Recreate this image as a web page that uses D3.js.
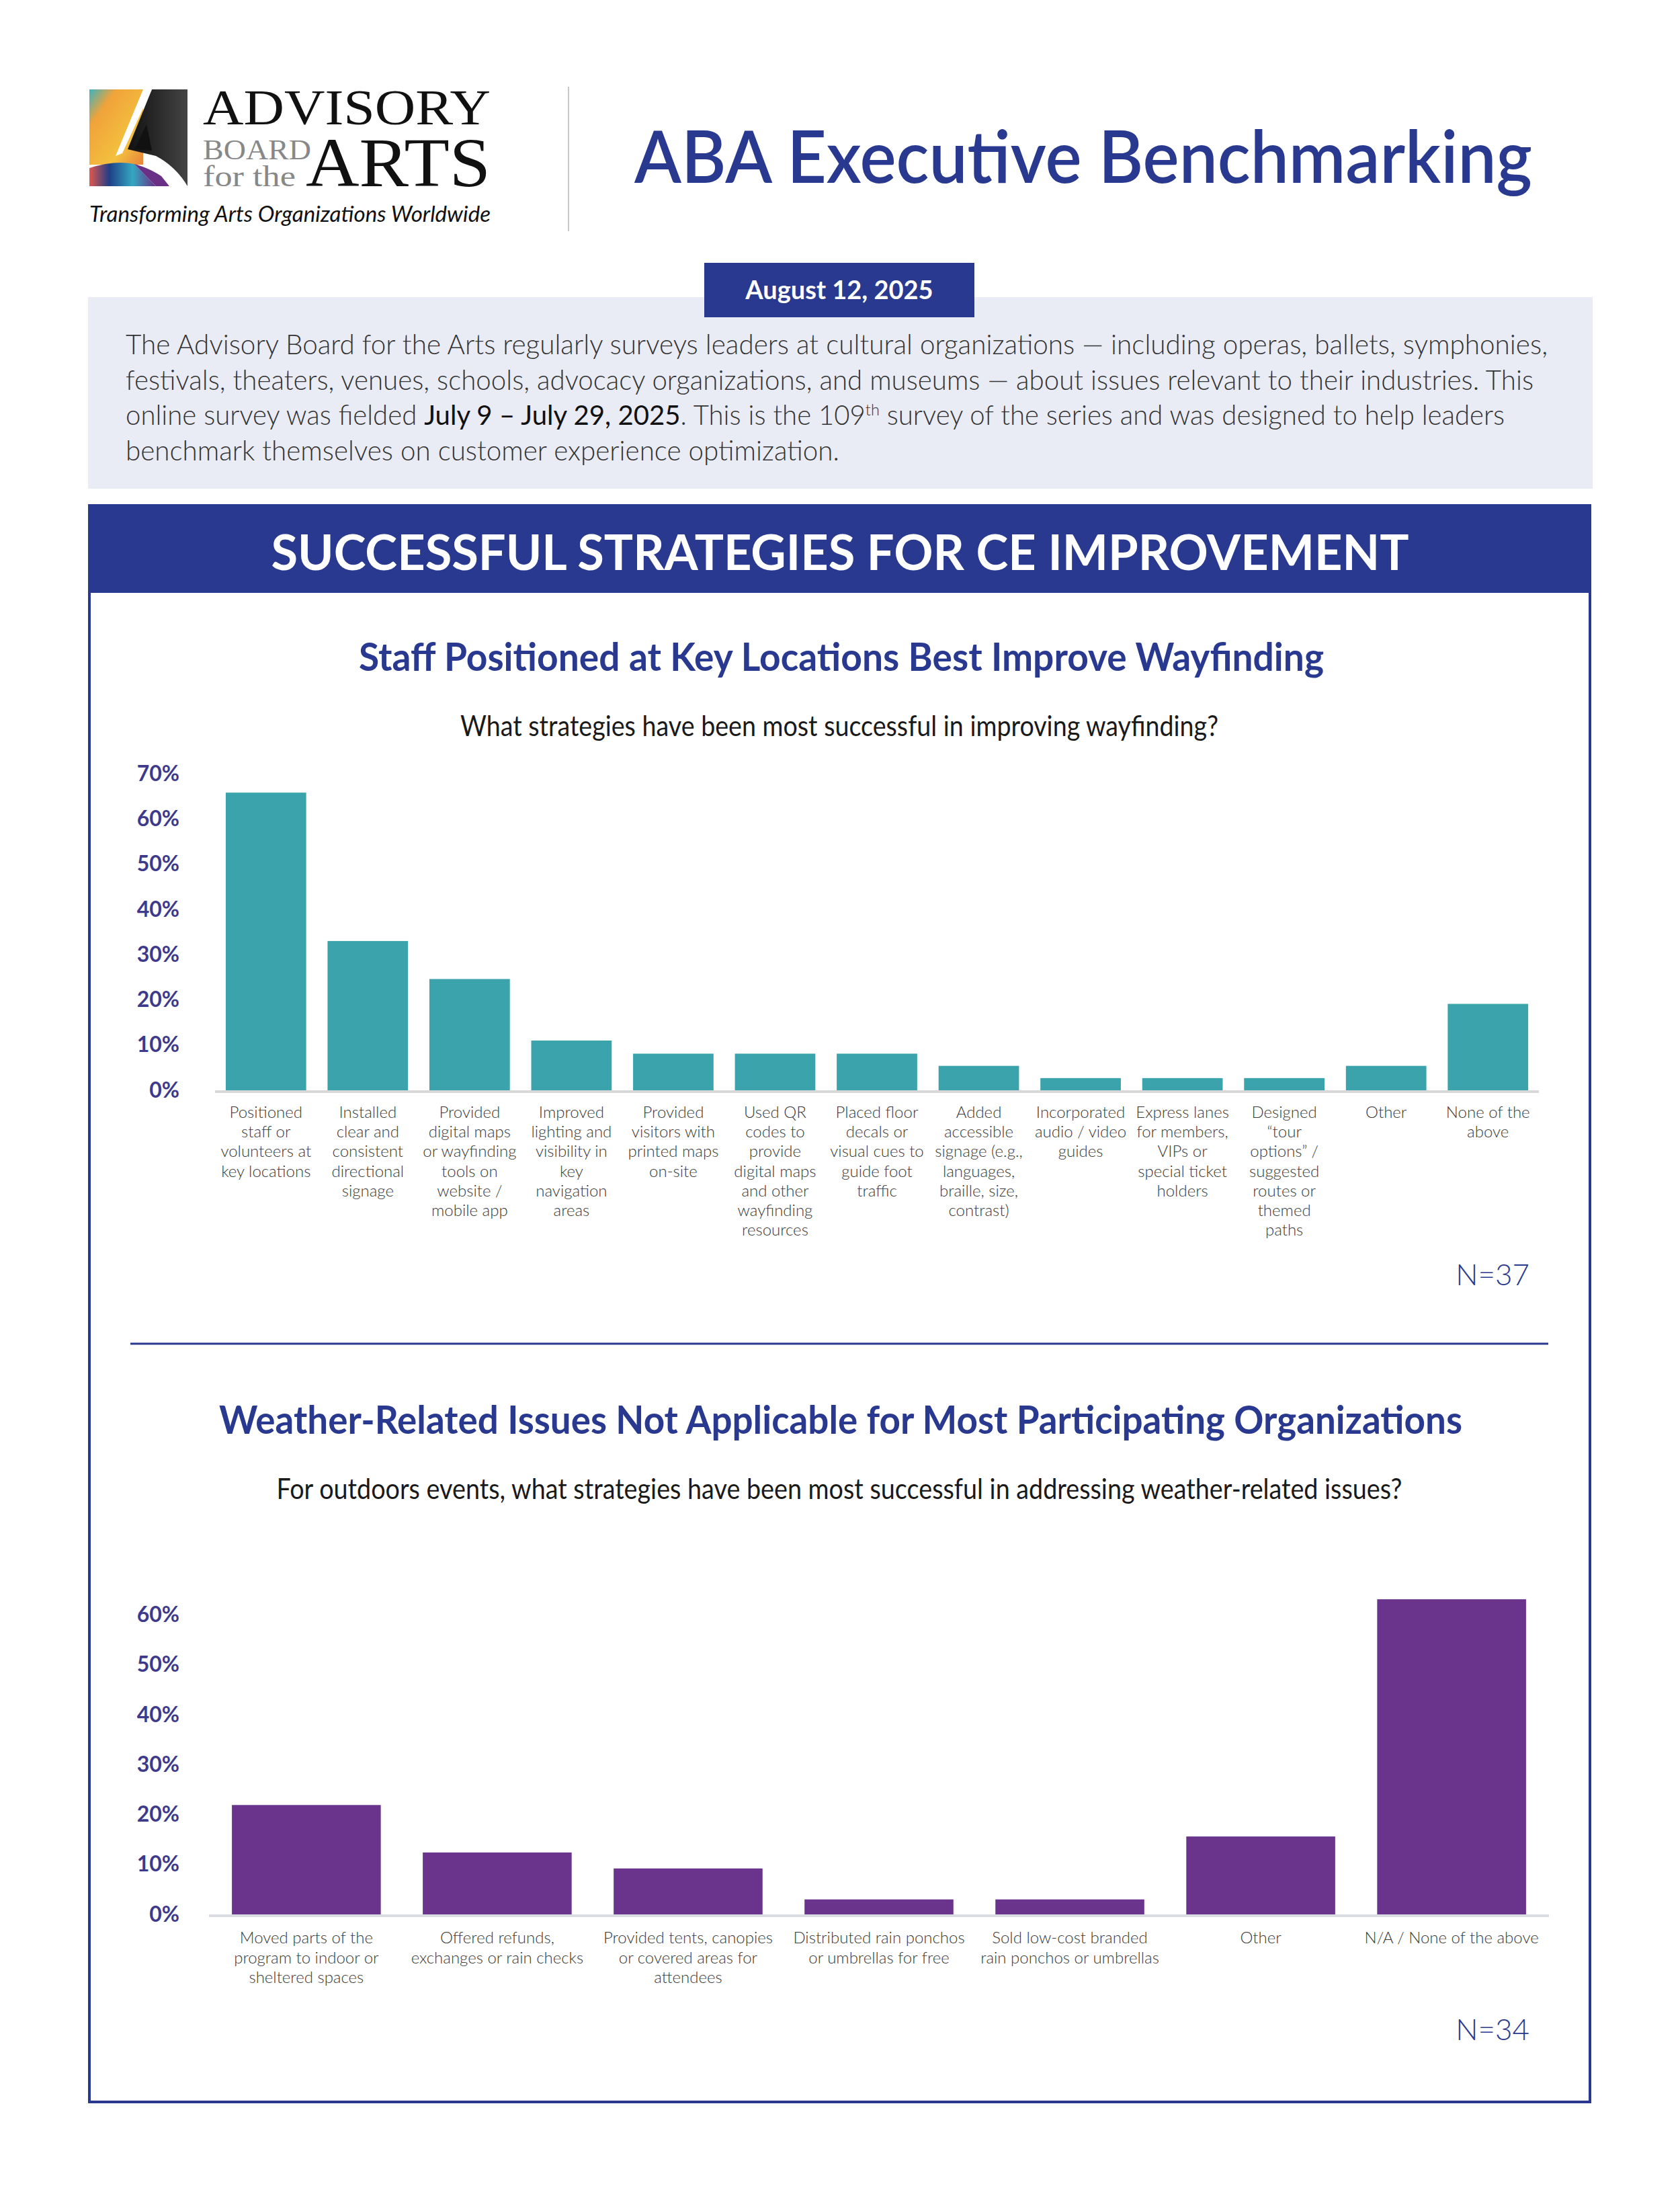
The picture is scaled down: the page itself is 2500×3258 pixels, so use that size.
<!DOCTYPE html>
<html>
<head>
<meta charset="utf-8">
<script src="https://cdn.jsdelivr.net/npm/d3@7"></script>
<style>
  body { margin: 0; background: #fff; }
  svg { display: block; }
</style>
</head>
<body>
<svg id="page"></svg>
<script>
// ---- data ----
const wayLabels = [
  "Positioned\nstaff or\nvolunteers at\nkey locations",
  "Installed\nclear and\nconsistent\ndirectional\nsignage",
  "Provided\ndigital maps\nor wayfinding\ntools on\nwebsite /\nmobile app",
  "Improved\nlighting and\nvisibility in\nkey\nnavigation\nareas",
  "Provided\nvisitors with\nprinted maps\non-site",
  "Used QR\ncodes to\nprovide\ndigital maps\nand other\nwayfinding\nresources",
  "Placed floor\ndecals or\nvisual cues to\nguide foot\ntraffic",
  "Added\naccessible\nsignage (e.g.,\nlanguages,\nbraille, size,\ncontrast)",
  "Incorporated\naudio / video\nguides",
  "Express lanes\nfor members,\nVIPs or\nspecial ticket\nholders",
  "Designed\n\u201Ctour\noptions\u201D /\nsuggested\nroutes or\nthemed\npaths",
  "Other",
  "None of the\nabove"
];
const wayValues = [65.8, 33.0, 24.6, 11.0, 8.1, 8.1, 8.1, 5.4, 2.7, 2.7, 2.7, 5.4, 19.1];
const wayTicks = [0, 10, 20, 30, 40, 50, 60, 70];

const weatherLabels = [
  "Moved parts of the\nprogram to indoor or\nsheltered spaces",
  "Offered refunds,\nexchanges or rain checks",
  "Provided tents, canopies\nor covered areas for\nattendees",
  "Distributed rain ponchos\nor umbrellas for free",
  "Sold low-cost branded\nrain ponchos or umbrellas",
  "Other",
  "N/A / None of the above"
];
const weatherValues = [21.9, 12.4, 9.2, 3.0, 3.0, 15.6, 63.1];
const weatherTicks = [0, 10, 20, 30, 40, 50, 60];

const introLines = [
  "The Advisory Board for the Arts regularly surveys leaders at cultural organizations \u2014 including operas, ballets, symphonies,",
  "festivals, theaters, venues, schools, advocacy organizations, and museums \u2014 about issues relevant to their industries. This",
  null,
  "benchmark themselves on customer experience optimization."
];

// ---- page ----
const W = 2500, H = 3258;
const navy = "#29398f";
const tickColor = "#3d3a8c";
const sans = "Lato, 'Open Sans', sans-serif";

const svg = d3.select("#page").attr("width", W).attr("height", H);
svg.append("rect").attr("width", W).attr("height", H).attr("fill", "#fff");

// logo
const defs = svg.append("defs");
const g1 = defs.append("linearGradient").attr("id", "paintTop").attr("x1", 0).attr("y1", 0).attr("x2", 1).attr("y2", 1);
g1.append("stop").attr("offset", "0").attr("stop-color", "#3cb3bf");
g1.append("stop").attr("offset", "0.25").attr("stop-color", "#f0a33a");
g1.append("stop").attr("offset", "0.7").attr("stop-color", "#f3c13f");
g1.append("stop").attr("offset", "1").attr("stop-color", "#e9823a");
const g2 = defs.append("linearGradient").attr("id", "paintBot").attr("x1", 0).attr("y1", 0).attr("x2", 1).attr("y2", 0);
g2.append("stop").attr("offset", "0").attr("stop-color", "#e2574c");
g2.append("stop").attr("offset", "0.3").attr("stop-color", "#1f3f86");
g2.append("stop").attr("offset", "0.65").attr("stop-color", "#34a7c2");
g2.append("stop").attr("offset", "1").attr("stop-color", "#6a2f86");
const g3 = defs.append("linearGradient").attr("id", "blk").attr("x1", 0).attr("y1", 0).attr("x2", 1).attr("y2", 0);
g3.append("stop").attr("offset", "0").attr("stop-color", "#111");
g3.append("stop").attr("offset", "1").attr("stop-color", "#444");

const logo = svg.append("g");
logo.append("rect").attr("x", 133).attr("y", 133).attr("width", 80).attr("height", 112).attr("fill", "url(#paintTop)");
logo.append("path").attr("d", "M133,250 Q170,238 200,244 L232,277 L133,277 Z").attr("fill", "url(#paintBot)");
logo.append("path").attr("d", "M200,244 Q222,250 240,262 L252,277 L232,277 Z").attr("fill", "#6a2f86");
logo.append("path").attr("d", "M226,133 L279,133 L279,277 Q262,248 232,232 L190,222 Z").attr("fill", "url(#blk)");
logo.append("path").attr("d", "M213,133 L226,133 L182,228 L172,232 Z").attr("fill", "#fff");
logo.append("path").attr("d", "M218,185 L226,224 L200,222 Z").attr("fill", "#111");

logo.append("text").attr("x", 302).attr("y", 185).attr("font-family", "'Liberation Serif', serif")
  .attr("font-size", 74).attr("fill", "#111").attr("textLength", 428).attr("lengthAdjust", "spacingAndGlyphs").text("ADVISORY");
logo.append("text").attr("x", 302).attr("y", 237).attr("font-family", "'Liberation Serif', serif")
  .attr("font-size", 42).attr("fill", "#888").attr("textLength", 161).attr("lengthAdjust", "spacingAndGlyphs").text("BOARD");
logo.append("text").attr("x", 302).attr("y", 277).attr("font-family", "'Liberation Serif', serif")
  .attr("font-size", 44).attr("fill", "#888").attr("textLength", 138).attr("lengthAdjust", "spacingAndGlyphs").text("for the");
logo.append("text").attr("x", 455).attr("y", 277).attr("font-family", "'Liberation Serif', serif")
  .attr("font-size", 104).attr("fill", "#111").attr("textLength", 275).attr("lengthAdjust", "spacingAndGlyphs").text("ARTS");
logo.append("text").attr("x", 133).attr("y", 330).attr("font-family", sans).attr("font-style", "italic")
  .attr("font-size", 33).attr("fill", "#111").attr("textLength", 597).attr("lengthAdjust", "spacingAndGlyphs")
  .text("Transforming Arts Organizations Worldwide");

svg.append("line").attr("x1", 846).attr("x2", 846).attr("y1", 129).attr("y2", 344).attr("stroke", "#c8c8c8").attr("stroke-width", 2);

svg.append("text").attr("x", 944).attr("y", 272).attr("font-family", sans).attr("font-weight", 600)
  .attr("font-size", 108).attr("fill", navy).attr("textLength", 1336).attr("lengthAdjust", "spacingAndGlyphs")
  .text("ABA Executive Benchmarking");

// intro panel
svg.append("rect").attr("x", 131).attr("y", 442).attr("width", 2239).attr("height", 285).attr("fill", "#e9ebf5");
svg.append("rect").attr("x", 1048).attr("y", 391).attr("width", 402).attr("height", 81).attr("fill", navy);
svg.append("text").attr("x", 1249).attr("y", 445).attr("text-anchor", "middle").attr("font-family", sans)
  .attr("font-weight", 700).attr("font-size", 38).attr("fill", "#fff").text("August 12, 2025");

const introWidths = [2116, 2095, 2052, 1062];
introLines.forEach((ln, i) => {
  const t = svg.append("text").attr("x", 187).attr("y", 527 + i * 52.7).attr("font-family", sans)
    .attr("font-weight", 300).attr("font-size", 41).attr("fill", "#333")
    .attr("textLength", introWidths[i]).attr("lengthAdjust", "spacingAndGlyphs");
  if (ln !== null) { t.text(ln); return; }
  t.append("tspan").text("online survey was fielded ");
  t.append("tspan").attr("font-weight", 400).attr("fill", "#111").text("July 9 \u2013 July 29, 2025");
  t.append("tspan").text(". This is the 109");
  t.append("tspan").attr("font-size", 24).attr("dy", -14).text("th");
  t.append("tspan").attr("dy", 14).text(" survey of the series and was designed to help leaders");
});

// section frame + banner
svg.append("rect").attr("x", 133).attr("y", 752).attr("width", 2233).attr("height", 2375)
  .attr("fill", "none").attr("stroke", navy).attr("stroke-width", 4);
svg.append("rect").attr("x", 131).attr("y", 750).attr("width", 2237).attr("height", 132).attr("fill", navy);
svg.append("text").attr("x", 1250).attr("y", 848).attr("text-anchor", "middle").attr("font-family", sans)
  .attr("font-weight", 700).attr("font-size", 72).attr("fill", "#fff").attr("textLength", 1693)
  .attr("lengthAdjust", "spacingAndGlyphs").text("SUCCESSFUL STRATEGIES FOR CE IMPROVEMENT");

// headings
function heading(txt, cx, y, len) {
  svg.append("text").attr("x", cx).attr("y", y).attr("text-anchor", "middle").attr("font-family", sans)
    .attr("font-weight", 700).attr("font-size", 57).attr("fill", navy)
    .attr("textLength", len).attr("lengthAdjust", "spacingAndGlyphs").text(txt);
}
function question(txt, cx, y, len) {
  svg.append("text").attr("x", cx).attr("y", y).attr("text-anchor", "middle").attr("font-family", sans)
    .attr("font-weight", 400).attr("font-size", 42).attr("fill", "#1a1a1a")
    .attr("textLength", len).attr("lengthAdjust", "spacingAndGlyphs").text(txt);
}
heading("Staff Positioned at Key Locations Best Improve Wayfinding", 1252, 998, 1436);
question("What strategies have been most successful in improving wayfinding?", 1249, 1095, 1128);
heading("Weather-Related Issues Not Applicable for Most Participating Organizations", 1251, 2133, 1850);
question("For outdoors events, what strategies have been most successful in addressing weather-related issues?", 1249, 2230, 1675);

svg.append("line").attr("x1", 194).attr("x2", 2304).attr("y1", 1999).attr("y2", 1999).attr("stroke", navy).attr("stroke-width", 3);

// bar chart
function barChart(o) {
  const x = d3.scaleBand().domain(o.labels).range(o.xRange)
    .paddingInner(o.padIn).paddingOuter(o.padOut);
  const y = d3.scaleLinear().domain([0, d3.max(o.ticks)])
    .range([o.base, o.base - o.per10 * (o.ticks.length - 1)]);
  const g = svg.append("g");

  g.append("line").attr("x1", o.xRange[0]).attr("x2", o.xRange[1])
    .attr("y1", o.base + 2).attr("y2", o.base + 2).attr("stroke", o.axisColor).attr("stroke-width", 4);

  g.selectAll(".bar").data(o.values).join("rect").attr("class", "bar")
    .attr("x", (d, i) => x(o.labels[i])).attr("width", x.bandwidth())
    .attr("y", d => y(d)).attr("height", d => y(0) - y(d)).attr("fill", o.color);

  const yAxis = g.append("g").attr("transform", `translate(267,0)`)
    .call(d3.axisLeft(y).tickValues(o.ticks).tickSize(0).tickPadding(0).tickFormat(d => d + "%"));
  yAxis.select(".domain").remove();
  yAxis.attr("font-family", sans).attr("font-size", 32).attr("font-weight", 700);
  yAxis.selectAll("text").attr("fill", tickColor);

  const xAxis = g.append("g").attr("transform", `translate(0,${o.base})`)
    .call(d3.axisBottom(x).tickSize(0).tickPadding(0));
  xAxis.select(".domain").remove();
  xAxis.attr("font-family", sans).attr("font-size", 24).attr("font-weight", 300);
  xAxis.selectAll("text").each(function(d) {
    const t = d3.select(this).text(null).attr("dy", null).attr("y", o.labelY - o.base).attr("fill", "#3a3a3a");
    d.split("\n").forEach((ln, i) => {
      t.append("tspan").attr("x", 0).attr("dy", i ? o.lineH : 0).text(ln);
    });
  });

  svg.append("text").attr("x", 2276).attr("y", o.nY).attr("text-anchor", "end").attr("font-family", sans)
    .attr("font-weight", 300).attr("font-size", 44).attr("fill", navy).text(o.n);
}

barChart({
  labels: wayLabels, values: wayValues, ticks: wayTicks,
  xRange: [320, 2290], padIn: 0.21, padOut: 0.105,
  base: 1622, per10: 67.3, color: "#3aa3ab", axisColor: "#d8d8d8",
  labelY: 1663, lineH: 29.2, n: "N=37", nY: 1912
});

barChart({
  labels: weatherLabels, values: weatherValues, ticks: weatherTicks,
  xRange: [311, 2305], padIn: 0.22, padOut: 0.12,
  base: 2848, per10: 74.3, color: "#6a338c", axisColor: "#dcdce4",
  labelY: 2891, lineH: 29.5, n: "N=34", nY: 3035
});
</script>
</body>
</html>
